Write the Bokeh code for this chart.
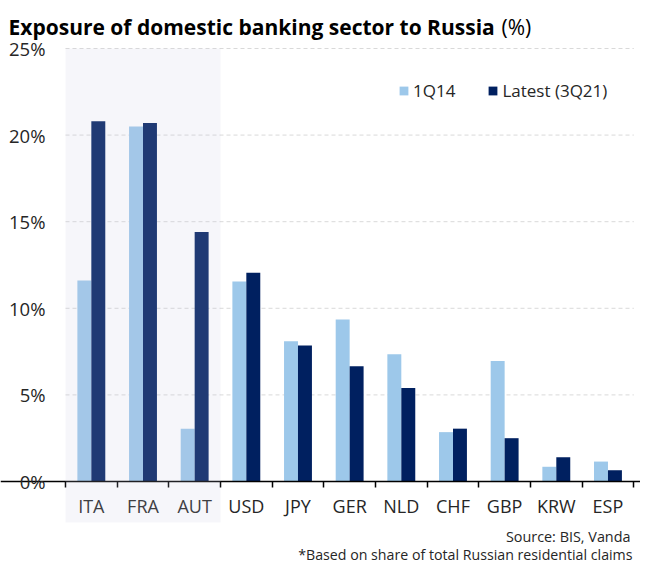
from bokeh.plotting import figure
from bokeh.models import (Range1d, FixedTicker, BoxAnnotation, Label, Legend,
                          LegendItem, ColumnDataSource)
from bokeh.transform import dodge
from bokeh.embed import file_html
from bokeh.resources import INLINE

categories = ["ITA", "FRA", "AUT", "USD", "JPY", "GER", "NLD", "CHF", "GBP", "KRW", "ESP"]
q1_2014 = [11.6, 20.5, 3.05, 11.55, 8.1, 9.35, 7.35, 2.85, 6.95, 0.85, 1.15]
latest_3q21 = [20.8, 20.7, 14.4, 12.05, 7.85, 6.65, 5.4, 3.05, 2.5, 1.4, 0.65]
highlighted = ["ITA", "FRA", "AUT"]
y_ticks = [0, 5, 10, 15, 20, 25]
series_names = ["1Q14", "Latest (3Q21)"]
title_main = "Exposure of domestic banking sector to Russia"
title_unit = "(%)"
source_text = "Source: BIS, Vanda"
note_text = "*Based on share of total Russian residential claims"

FONT = "Open Sans"
LIGHT = "#9dc8ea"
NAVY = "#002060"
TXT = "#262626"

W, H = 640, 566          # canvas == plot frame (axes drawn at fixed locations)
n = len(categories)

pos = [i + 0.5 for i in range(n)]
src = ColumnDataSource(dict(x=pos, q1=q1_2014, latest=latest_3q21, cat=categories))
grid_src = ColumnDataSource(dict(y=y_ticks, x0=[0] * len(y_ticks), x1=[n] * len(y_ticks)))

p = figure(width=W, height=H, x_range=Range1d(-1.2582, 11.1297),
           y_range=Range1d(-4.908, 27.771), output_backend="svg", toolbar_location=None,
           min_border=0, min_border_left=0, min_border_right=0, min_border_top=0,
           min_border_bottom=0, title=None)
p.outline_line_color = None
p.xgrid.visible = False
p.ygrid.visible = False

# dashed horizontal gridlines spanning only the category area
p.segment(x0="x0", x1="x1", y0="y", y1="y", source=grid_src,
          line_color="#d9d9d9", line_dash="4 3", line_width=1)

bw = 0.27
r1 = p.vbar(x=dodge("x", -bw / 2, range=p.x_range), top="q1", width=bw, source=src,
            fill_color=LIGHT, line_color=None)
r2 = p.vbar(x=dodge("x", bw / 2, range=p.x_range), top="latest", width=bw, source=src,
            fill_color=NAVY, line_color=None)

# x axis at zero: labels at centres, ticks at category boundaries
p.xaxis.fixed_location = 0
p.xaxis.ticker = FixedTicker(ticks=pos, minor_ticks=list(range(n + 1)))
p.xaxis.major_label_overrides = {x: c for x, c in zip(pos, categories)}
p.xaxis.major_tick_line_color = None
p.xaxis.major_tick_out = 0
p.xaxis.major_tick_in = 0
p.xaxis.minor_tick_line_color = "black"
p.xaxis.minor_tick_out = 6
p.xaxis.minor_tick_in = 0
p.xaxis.minor_tick_line_width = 1.5
p.xaxis.axis_line_color = "black"
p.xaxis.axis_line_width = 1.5
p.xaxis.major_label_text_font = FONT
p.xaxis.major_label_text_font_size = "18px"
p.xaxis.major_label_text_color = TXT
p.xaxis.major_label_standoff = 7

# y axis at the left edge of the category area
p.yaxis.fixed_location = 0
p.yaxis.ticker = FixedTicker(ticks=y_ticks)
p.yaxis.major_label_overrides = {t: f"{t}%" for t in y_ticks}
p.yaxis.axis_line_color = None
p.yaxis.major_tick_line_color = None
p.yaxis.minor_tick_line_color = None
p.yaxis.major_tick_out = 0
p.yaxis.major_label_text_font = FONT
p.yaxis.major_label_text_font_size = "18.5px"
p.yaxis.major_label_text_color = TXT
p.yaxis.major_label_standoff = 20

# shaded highlight band (extends under the category labels)
left = categories.index(highlighted[0])
right = categories.index(highlighted[-1]) + 1
p.add_layout(BoxAnnotation(left=left, right=right, bottom=-2.37, top=y_ticks[-1],
                           fill_color="#c8c8e0", fill_alpha=0.16, line_color=None,
                           level="overlay"))

legend = Legend(items=[LegendItem(label=series_names[0], renderers=[r1]),
                       LegendItem(label=series_names[1], renderers=[r2])],
                orientation="horizontal", location=(398, 464),
                glyph_width=11, glyph_height=11, label_height=11,
                label_text_font=FONT, label_text_font_size="17px",
                label_text_color=TXT, label_standoff=4, spacing=32,
                padding=0, margin=0, background_fill_alpha=0, border_line_color=None)
p.add_layout(legend, "center")

p.add_layout(Label(x=8, y=H - 26, x_units="screen", y_units="screen",
                   text=title_main, text_font=FONT, text_font_style="bold",
                   text_font_size="21px", text_baseline="alphabetic", text_color="black"))
p.add_layout(Label(x=501, y=H - 26, x_units="screen", y_units="screen",
                   text=title_unit, text_font=FONT, text_font_size="21px",
                   text_baseline="alphabetic", text_color="black"))
p.add_layout(Label(x=630, y=H - 536, x_units="screen", y_units="screen",
                   text=source_text, text_font=FONT, text_font_size="14.4px",
                   text_align="right", text_baseline="alphabetic", text_color=TXT))
p.add_layout(Label(x=632, y=H - 554, x_units="screen", y_units="screen",
                   text=note_text, text_font=FONT, text_font_size="14.2px",
                   text_align="right", text_baseline="alphabetic", text_color=TXT))

open("out.html", "w").write(file_html(p, INLINE))
